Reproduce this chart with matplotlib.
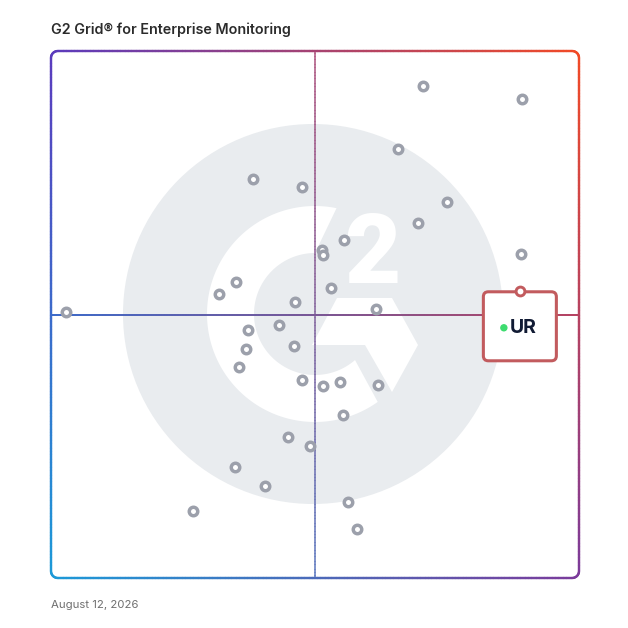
import numpy as np
import matplotlib
matplotlib.use("Agg")
import matplotlib.pyplot as plt
from matplotlib.collections import LineCollection
from matplotlib.patches import Circle, Polygon, FancyBboxPatch
from matplotlib.colors import to_rgb
from matplotlib import transforms

# G2 grid scores (0-100): x = market presence, y = satisfaction
pres = [70.5, 89.2, 65.7, 38.3, 47.5, 75.0, 69.5, 55.5, 51.3, 51.5, 89.0,
        35.0, 31.8, 53.0, 46.2, 61.6, 2.8, 43.2, 37.3, 46.0, 36.9, 35.6,
        47.5, 51.5, 54.7, 61.9, 55.3, 44.9, 49.1, 34.8, 40.5, 26.9, 56.3, 58.0]
sat = [93.4, 90.9, 81.4, 75.7, 74.2, 71.3, 67.4, 64.1, 62.2, 61.3, 61.5,
       56.2, 53.9, 55.0, 52.4, 51.0, 50.5, 48.0, 47.1, 44.0, 43.5, 40.0,
       37.6, 36.4, 37.2, 36.6, 30.9, 26.8, 25.0, 21.1, 17.5, 12.7, 14.4, 9.3]
ur_x, ur_y = 88.8, 54.5
ur_label = "UR"
title = "G2 Grid® for Enterprise Monitoring"
date_txt = "August 12, 2026"

W = H = 628
fig = plt.figure(figsize=(6.28, 6.28), dpi=100)

# background layer in pixel coords (logo + texts)
bg = fig.add_axes([0, 0, 1, 1])
bg.set_xlim(0, W)
bg.set_ylim(H, 0)
bg.axis('off')

bg.add_patch(Circle((313, 314), 190, color='#e9ecef', lw=0))
gx, gy = 315, 314
th_o = np.radians(np.linspace(78.5, 305.5, 200))
th_i = np.radians(np.linspace(311, 90, 200))
ring = np.vstack([np.c_[gx + 108*np.cos(th_o), gy - 108*np.sin(th_o)],
                  np.c_[gx + 61*np.cos(th_i), gy - 61*np.sin(th_i)]])
bg.add_patch(Polygon(ring, closed=True, color='white', lw=0))
chev = [(337, 298), (392, 298), (418, 345), (392, 392), (365, 345), (312, 345)]
bg.add_patch(Polygon(chev, closed=True, color='white', lw=0))
bg.text(372, 283, "2", fontsize=70, fontweight='heavy', family='Roboto',
        color='white', ha='center', va='baseline')

bg.text(51, 34, title, fontsize=10.3, fontweight='semibold', family='Inter',
        color='#2b2b2b', ha='left', va='baseline')
bg.text(51, 608, date_txt, fontsize=8.2, family='Inter',
        color='#6f6f6f', ha='left', va='baseline')

# data layer
ax = fig.add_axes([51/W, 50/H, 528/W, 527/H])
ax.set_xlim(0, 100)
ax.set_ylim(0, 100)
ax.axis('off')
ax.patch.set_alpha(0)

TL = np.array(to_rgb('#5b3bbd'))
TR = np.array(to_rgb('#f24a26'))
BL = np.array(to_rgb('#1c9ad8'))
BR = np.array(to_rgb('#7b3b9b'))

def grad(u, v):
    u = np.asarray(u)[:, None]
    v = np.asarray(v)[:, None]
    return (1-u)*v*TL + u*v*TR + (1-u)*(1-v)*BL + u*(1-v)*BR

def resample(pts, step=0.3):
    out = [pts[0]]
    for a, b in zip(pts[:-1], pts[1:]):
        n = max(int(np.hypot(*(b - a)) / step), 1)
        for t in np.linspace(0, 1, n + 1)[1:]:
            out.append(a + (b - a)*t)
    return np.array(out)

def grad_line(pts, lw, alpha=1.0):
    segs = np.stack([pts[:-1], pts[1:]], axis=1)
    mid = segs.mean(axis=1)
    cols = np.clip(grad(mid[:, 0]/100, mid[:, 1]/100), 0, 1)
    lc = LineCollection(segs, colors=cols, linewidths=lw, alpha=alpha,
                        capstyle='round', clip_on=False)
    ax.add_collection(lc)

r = 1.3
corners = [(100-r, 100-r, 0), (r, 100-r, 90), (r, r, 180), (100-r, r, 270)]
pts = []
for ccx, ccy, a0 in corners:
    a = np.radians(np.linspace(a0, a0 + 90, 12))
    pts.append(np.c_[ccx + r*np.cos(a), ccy + r*np.sin(a)])
pts = np.vstack(pts + [pts[0][:1]])
grad_line(resample(pts), 1.7)

grad_line(resample(np.array([[0, 50.0], [100, 50.0]])), 1.4)
grad_line(resample(np.array([[50.0, 0], [50.0, 100]])), 1.3, alpha=0.6)

ax.scatter(pres, sat, s=6.1**2, facecolor='white', edgecolor='#9ca0ab',
           linewidths=2.5, zorder=3, clip_on=False)

# highlighted product
off = fig.dpi_scale_trans + transforms.ScaledTranslation(ur_x, ur_y, ax.transData)
ax.add_patch(FancyBboxPatch((-0.365, -0.70), 0.73, 0.69,
                            boxstyle="round,pad=0,rounding_size=0.05",
                            fc='white', ec='#c25b5e', lw=2.2, transform=off,
                            zorder=4, clip_on=False))
ax.add_patch(Circle((-0.16, -0.37), 0.03, color='#3ddc6f', transform=off,
                    zorder=5, clip_on=False))
ax.text(-0.10, -0.42, ur_label, transform=off, fontsize=14, fontweight='bold',
        family='Inter', color='#101a33', ha='left', va='baseline', zorder=5)
ax.scatter([ur_x], [ur_y], s=6.35**2, facecolor='white', edgecolor='#c25b5e',
           linewidths=2.1, zorder=6, clip_on=False)

fig.savefig("out.png", dpi=100)
